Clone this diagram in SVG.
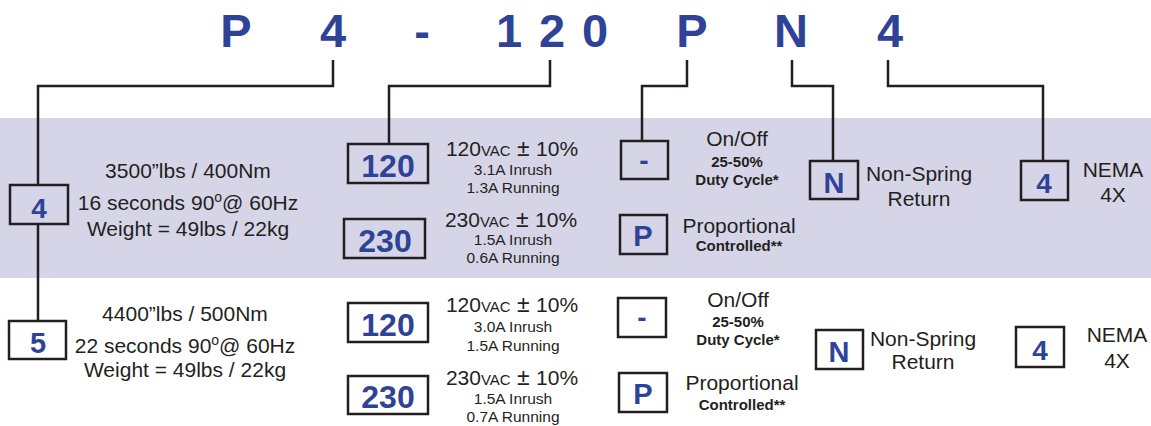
<svg xmlns="http://www.w3.org/2000/svg" width="1151" height="426" viewBox="0 0 1151 426">
<style>
text{font-family:"Liberation Sans",Arial,sans-serif;fill:#231f20}
.t{font-size:47px;font-weight:bold;fill:#2e4397;text-anchor:middle}
.box{fill:none;stroke:#231f20;stroke-width:2.5}
.bt{font-weight:bold;fill:#2e4397;text-anchor:middle}
.c{text-anchor:middle}
.m{font-size:21px}
.s{font-size:15.5px}
.b{font-size:15px;font-weight:bold}
.w{fill:none;stroke:#231f20;stroke-width:2.5}
</style>
<rect x="0" y="118" width="1151" height="160" fill="#d6d5e8"/>
<g id="title">
<text class="t" x="236" y="47">P</text>
<text class="t" x="333" y="47">4</text>
<text class="t" x="422" y="47">-</text>
<text class="t" x="509" y="47">1</text>
<text class="t" x="552" y="47">2</text>
<text class="t" x="595" y="47">0</text>
<text class="t" x="692" y="47">P</text>
<text class="t" x="791" y="47">N</text>
<text class="t" x="890" y="47">4</text>
</g>
<g id="connectors">
<polyline class="w" points="333,60 333,86 38,86 38,185"/>
<line class="w" x1="38" y1="224" x2="38" y2="321"/>
<polyline class="w" points="550,60 550,86 389,86 389,144"/>
<polyline class="w" points="687,60 687,86 642,86 642,141"/>
<polyline class="w" points="792,60 792,86 833,86 833,161"/>
<polyline class="w" points="888,60 888,86 1043,86 1043,161"/>
</g>
<g id="size4">
<rect class="box" x="10" y="185" width="58" height="39"/>
<text class="bt" x="39" y="218" font-size="28">4</text>
<text class="c m" x="188" y="178">3500”lbs / 400Nm</text>
<text class="c m" x="188" y="210">16 seconds 90<tspan font-size="14" dy="-8">o</tspan><tspan dy="8">@ 60Hz</tspan></text>
<text class="c m" x="188" y="236">Weight = 49lbs / 22kg</text>
</g>
<g id="size5">
<rect class="box" x="9" y="321" width="57" height="38"/>
<text class="bt" x="38" y="353" font-size="29">5</text>
<text class="c m" x="185" y="321">4400”lbs / 500Nm</text>
<text class="c m" x="185" y="353">22 seconds 90<tspan font-size="14" dy="-8">o</tspan><tspan dy="8">@ 60Hz</tspan></text>
<text class="c m" x="185" y="377">Weight = 49lbs / 22kg</text>
</g>
<g id="v120a">
<rect class="box" x="348" y="144" width="80" height="39"/>
<text class="bt" x="388" y="177" font-size="32">120</text>
<text class="c" x="512" y="156"><tspan font-size="21">120</tspan><tspan font-size="15">VAC</tspan><tspan font-size="23"> ± </tspan><tspan font-size="21">10%</tspan></text>
<text class="c s" x="513" y="175">3.1A Inrush</text>
<text class="c s" x="513" y="193">1.3A Running</text>
</g>
<g id="v230a">
<rect class="box" x="344" y="219" width="81" height="39"/>
<text class="bt" x="385" y="252" font-size="32">230</text>
<text class="c" x="511" y="227"><tspan font-size="21">230</tspan><tspan font-size="15">VAC</tspan><tspan font-size="23"> ± </tspan><tspan font-size="21">10%</tspan></text>
<text class="c s" x="513" y="245">1.5A Inrush</text>
<text class="c s" x="513" y="263">0.6A Running</text>
</g>
<g id="ctlOnOffA">
<rect class="box" x="621" y="141" width="47" height="38"/>
<text class="bt" x="644" y="170" font-size="28">-</text>
<text class="c m" x="737" y="146">On/Off</text>
<text class="c b" x="737" y="167">25-50%</text>
<text class="c b" x="737" y="185">Duty Cycle*</text>
</g>
<g id="ctlPropA">
<rect class="box" x="620" y="215" width="47" height="39"/>
<text class="bt" x="643" y="246" font-size="29">P</text>
<text class="c m" x="739" y="233">Proportional</text>
<text class="c b" x="739" y="251">Controlled**</text>
</g>
<g id="nsrA">
<rect class="box" x="810" y="161" width="48" height="38"/>
<text class="bt" x="834" y="193" font-size="29">N</text>
<text class="c m" x="919" y="181">Non-Spring</text>
<text class="c m" x="919" y="206">Return</text>
</g>
<g id="nemaA">
<rect class="box" x="1021" y="161" width="47" height="39"/>
<text class="bt" x="1044" y="193" font-size="28">4</text>
<text class="c m" x="1113" y="177">NEMA</text>
<text class="c m" x="1113" y="202">4X</text>
</g>
<g id="v120b">
<rect class="box" x="348" y="303" width="80" height="39"/>
<text class="bt" x="388" y="336" font-size="32">120</text>
<text class="c" x="512" y="312"><tspan font-size="21">120</tspan><tspan font-size="15">VAC</tspan><tspan font-size="23"> ± </tspan><tspan font-size="21">10%</tspan></text>
<text class="c s" x="513" y="332">3.0A Inrush</text>
<text class="c s" x="513" y="351">1.5A Running</text>
</g>
<g id="v230b">
<rect class="box" x="348" y="376" width="80" height="38"/>
<text class="bt" x="388" y="408" font-size="32">230</text>
<text class="c" x="512" y="385"><tspan font-size="21">230</tspan><tspan font-size="15">VAC</tspan><tspan font-size="23"> ± </tspan><tspan font-size="21">10%</tspan></text>
<text class="c s" x="513" y="404">1.5A Inrush</text>
<text class="c s" x="513" y="422">0.7A Running</text>
</g>
<g id="ctlOnOffB">
<rect class="box" x="618" y="298" width="48" height="39"/>
<text class="bt" x="642" y="327" font-size="28">-</text>
<text class="c m" x="738" y="307">On/Off</text>
<text class="c b" x="738" y="327">25-50%</text>
<text class="c b" x="738" y="345">Duty Cycle*</text>
</g>
<g id="ctlPropB">
<rect class="box" x="619" y="373" width="48" height="39"/>
<text class="bt" x="643" y="404" font-size="29">P</text>
<text class="c m" x="742" y="390">Proportional</text>
<text class="c b" x="742" y="410">Controlled**</text>
</g>
<g id="nsrB">
<rect class="box" x="816" y="330" width="47" height="39"/>
<text class="bt" x="839" y="362" font-size="29">N</text>
<text class="c m" x="923" y="346">Non-Spring</text>
<text class="c m" x="923" y="369">Return</text>
</g>
<g id="nemaB">
<rect class="box" x="1016" y="327" width="48" height="40"/>
<text class="bt" x="1040" y="360" font-size="28">4</text>
<text class="c m" x="1117" y="342">NEMA</text>
<text class="c m" x="1117" y="368">4X</text>
</g>
</svg>
